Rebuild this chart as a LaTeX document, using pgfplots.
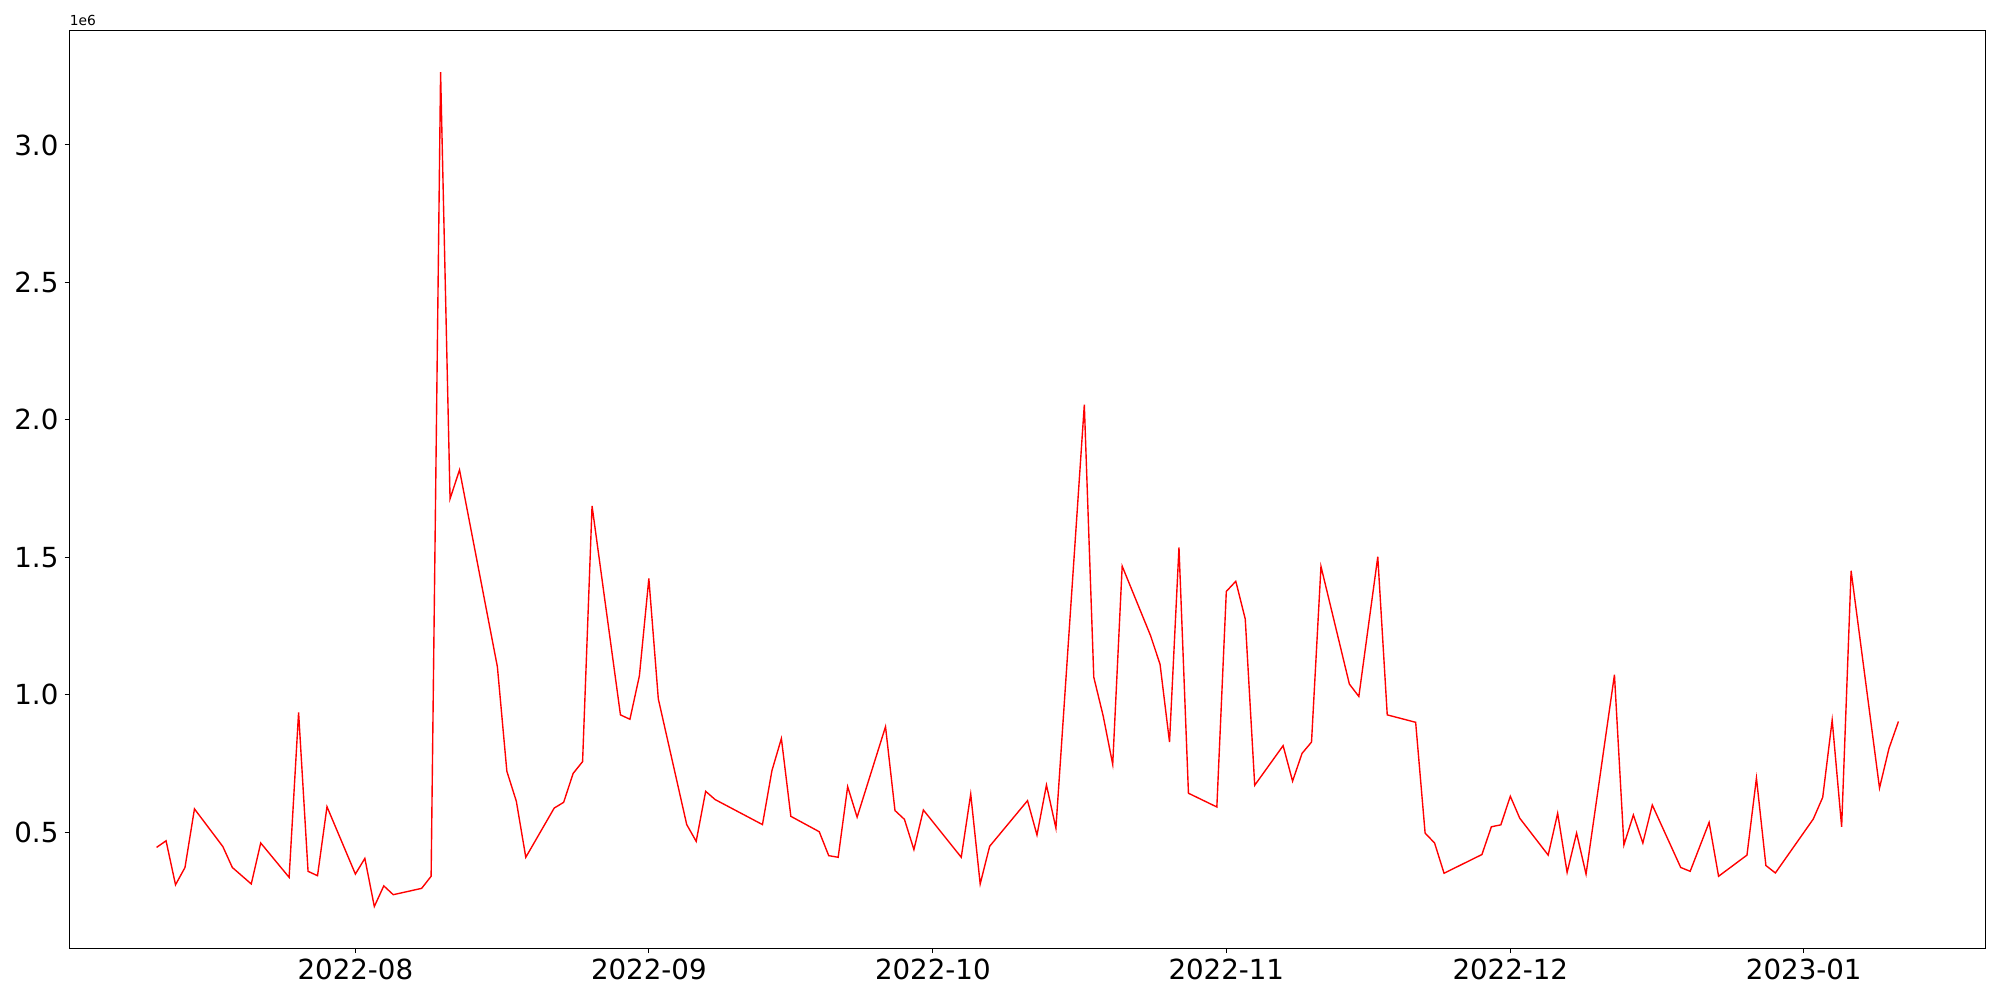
\documentclass[border=0pt]{standalone}
\usepackage{fontspec}
\setmainfont{DejaVu Sans}
\usepackage{pgfplots}
\pgfplotsset{compat=1.18}
\begin{document}
\begin{tikzpicture}
\useasboundingbox (0,0) rectangle (20in,10in);
\begin{axis}[
  at={(0.695in,0.517in)}, anchor=south west,
  width=19.16in, height=9.18in, scale only axis,
  xmin=0.8, xmax=203.2, ymin=0.078, ymax=3.417,
  axis line style={line width=0.8pt},
  every tick/.style={line width=0.8pt, black},
  major tick length=3.5pt,
  tick align=outside, xtick pos=bottom, ytick pos=left,
  xtick={31,62,92,123,153,184},
  xticklabels={2022-08,2022-09,2022-10,2022-11,2022-12,2023-01},
  ytick={0.5,1.0,1.5,2.0,2.5,3.0},
  yticklabel style={/pgf/number format/fixed, /pgf/number format/fixed zerofill, /pgf/number format/precision=1},
  /pgf/number format/assume math mode=true,
  tick label style={font=\fontsize{20}{24}\selectfont},
  xticklabel style={yshift=-1pt},
  yticklabel style={xshift=-1pt},
  clip=false,
]
\addplot[color=red, line width=1pt] coordinates {
(10,0.445) (11,0.469) (12,0.309) (13,0.372) (14,0.585) (17,0.448) (18,0.372) (20,0.312) (21,0.461)
(24,0.336) (25,0.936) (26,0.358) (27,0.342) (28,0.593) (31,0.348) (32,0.405) (33,0.230) (34,0.305)
(35,0.273) (38,0.296) (39,0.340) (40,3.265) (41,1.713) (42,1.818) (46,1.102) (47,0.722) (48,0.613)
(49,0.409) (52,0.588) (53,0.609) (54,0.714) (55,0.757) (56,1.687) (59,0.927) (60,0.911) (61,1.069)
(62,1.423) (63,0.985) (66,0.528) (67,0.467) (68,0.649) (69,0.619) (74,0.528) (75,0.724) (76,0.841)
(77,0.558) (80,0.502) (81,0.415) (82,0.409) (83,0.666) (84,0.555) (87,0.884) (88,0.579) (89,0.547)
(90,0.437) (91,0.581) (95,0.409) (96,0.639) (97,0.312) (98,0.449) (102,0.615) (103,0.490) (104,0.672)
(105,0.515) (108,2.055) (109,1.064) (110,0.922) (111,0.747) (112,1.468) (115,1.215) (116,1.111)
(117,0.828) (118,1.536) (119,0.642) (122,0.592) (123,1.376) (124,1.413) (125,1.276) (126,0.671)
(129,0.815) (130,0.686) (131,0.787) (132,0.828) (133,1.467) (136,1.039) (137,0.994) (139,1.502)
(140,0.927) (143,0.900) (144,0.497) (145,0.461) (146,0.351) (150,0.419) (151,0.520) (152,0.527)
(153,0.631) (154,0.551) (157,0.417) (158,0.569) (159,0.354) (160,0.497) (161,0.348) (164,1.073)
(165,0.454) (166,0.563) (167,0.461) (168,0.599) (171,0.372) (172,0.358) (174,0.536) (175,0.340)
(178,0.417) (179,0.697) (180,0.379) (181,0.352) (185,0.548) (186,0.627) (187,0.908) (188,0.520)
(189,1.451) (192,0.661) (193,0.805) (194,0.903)
};
\node[anchor=south west, inner sep=0pt, font=\fontsize{10}{12}\selectfont] at (rel axis cs:0,1) [yshift=3pt] {1e6};
\end{axis}
\end{tikzpicture}
\end{document}
